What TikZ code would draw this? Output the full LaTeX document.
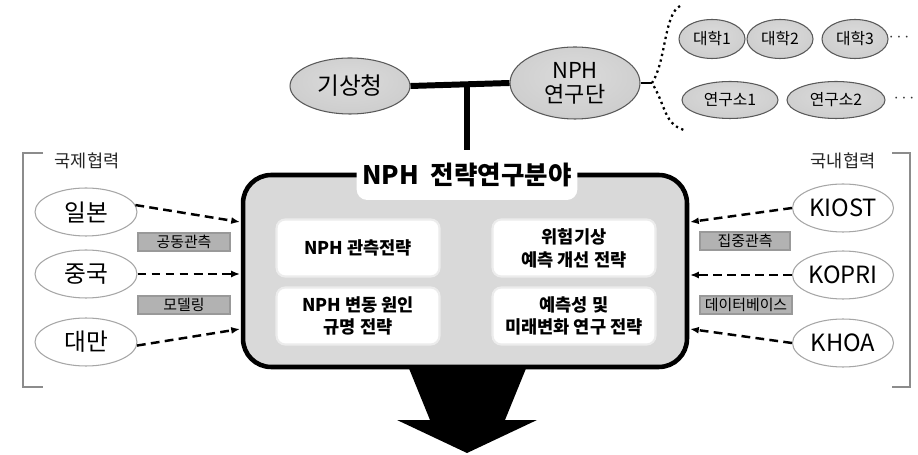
\documentclass[tikz,border=0pt]{standalone}
\usepackage{fontspec}
\setmainfont{Noto Sans CJK KR}
\usepackage{tikz}
\usetikzlibrary{arrows.meta,shapes.geometric,shadows}

% sfumature per le ellissi
\pgfdeclareradialshading{bordochiaro}{\pgfpoint{0bp}{6bp}}{color(0bp)=(white); color(27bp)=(white); color(46bp)=(gray!55); color(60bp)=(gray!60)}
\pgfdeclareradialshading{bordoscuro}{\pgfpoint{0bp}{6bp}}{color(0bp)=(gray!28); color(26bp)=(gray!38); color(48bp)=(gray!85); color(60bp)=(gray!90)}

\begin{document}
\begin{tikzpicture}[x=0.02cm, y=-0.02cm,
    gruppo/.style={ellipse, draw=gray!70!black, line width=0.6pt, shading=bordoscuro, inner sep=0pt, align=center},
    ente/.style={ellipse, draw=gray!70, line width=0.6pt, shading=bordochiaro, inner sep=0pt, minimum width=2.04cm, minimum height=0.96cm, font=\fontsize{13.5}{15}\selectfont},
    tema/.style={rounded corners=5pt, fill=white, draw=gray!15, line width=1.2pt, minimum width=3.26cm, minimum height=1.14cm, align=center, font=\bfseries\fontsize{10}{13}\selectfont},
    attivita/.style={fill=gray!60, draw=gray!80, line width=0.8pt, minimum width=1.84cm, minimum height=0.36cm, inner sep=0pt, font=\fontsize{8.5}{9}\selectfont},
    collab/.style={-{Latex[length=5pt,width=4pt]}, line width=1.4pt, dash pattern=on 5pt off 3pt},
    ]
    \useasboundingbox (0,0) rectangle (918,455);

    % Enti in alto
    \node[gruppo, minimum width=2.4cm, minimum height=1.12cm, font=\fontsize{13.5}{15}\selectfont] (kma) at (350,86) {기상청};
    \node[gruppo, minimum width=2.6cm, minimum height=1.44cm, font=\fontsize{12.5}{13.5}\selectfont] (nph) at (575,83) {NPH\\연구단};

    % Universita e istituti
    \node[gruppo, minimum width=1.32cm, minimum height=0.78cm, font=\fontsize{9}{10}\selectfont] (univ1) at (712,39) {대학1};
    \node[gruppo, minimum width=1.32cm, minimum height=0.78cm, font=\fontsize{9}{10}\selectfont] (univ2) at (780,39) {대학2};
    \node[gruppo, minimum width=1.32cm, minimum height=0.78cm, font=\fontsize{9}{10}\selectfont] (univ3) at (855,39) {대학3};
    \node[gray!40!black] (univdots) at (899,38) {$\cdots$};
    \node[gruppo, minimum width=1.92cm, minimum height=0.74cm, font=\fontsize{9}{10}\selectfont] (ist1) at (730,100) {연구소1};
    \node[gruppo, minimum width=1.96cm, minimum height=0.74cm, font=\fontsize{9}{10}\selectfont] (ist2) at (836,100) {연구소2};
    \node[gray!40!black] (istdots) at (904,99) {$\cdots$};

    % Graffa punteggiata
    \coordinate (graffa) at (652,83);
    \draw[line width=0.8pt] (nph.east) -- (graffa);
    \draw[dotted, line width=1.3pt] (680,6) .. controls (664,14) and (666,62) .. (graffa)
        .. controls (666,106) and (664,124) .. (684,130);

    % Riquadro centrale
    \node[rounded corners=16pt, fill=gray!30, draw=black, line width=2.6pt, minimum width=8.88cm, minimum height=3.84cm] (campo) at (465,271) {};
    \node[tema] (oss) at (358,248) {NPH 관측전략};
    \node[tema] (prev) at (574,248) {위험기상\\예측 개선 전략};
    \node[tema] (causa) at (358,316) {NPH 변동 원인\\규명 전략};
    \node[tema] (futuro) at (574,316) {예측성 및\\미래변화 연구 전략};
    \node[rounded corners=6pt, fill=white, minimum width=4.26cm, minimum height=1.0cm, font=\bfseries\fontsize{14.5}{16}\selectfont] (titolo) at (467,175) {NPH\ \ 전략연구분야};

    % Collegamento a T
    \coordinate (nodo) at (467,83);
    \draw[line width=3.4pt] (kma.east) -- (nph.west);
    \draw[line width=3.4pt] (nodo) -- (titolo.north);

    % Freccia grande
    \fill (408,366) -- (527,366) -- (505,420) -- (537,420) -- (467,453) -- (397,420) -- (430,420) -- cycle;

    % Cooperazione internazionale
    \draw[gray!90, line width=1.6pt] (43,153) -- (23,153) -- (23,387) -- (43,387);
    \node[text=gray!30!black, font=\fontsize{10}{12}\selectfont] (intl) at (87,161) {국제협력};
    \node[ente] (jp) at (86,212) {일본};
    \node[ente] (cn) at (86,274) {중국};
    \node[ente] (tw) at (86,342) {대만};
    \node[attivita] (joint) at (184,242) {공동관측};
    \node[attivita] (model) at (184,305) {모델링};
    \coordinate (in1) at (240,222);
    \coordinate (in2) at (240,274);
    \coordinate (in3) at (240,329);
    \draw[collab] (jp.8) -- (in1);
    \draw[collab] (cn.east) -- (in2);
    \draw[collab] (tw.-4) -- (in3);

    % Cooperazione nazionale
    \draw[gray!90, line width=1.6pt] (892,153) -- (910,153) -- (910,387) -- (892,387);
    \node[text=gray!30!black, font=\fontsize{10}{12}\selectfont] (dom) at (843,161) {국내협력};
    \node[ente, minimum width=2.02cm] (kiost) at (843,208) {KIOST};
    \node[ente, minimum width=2.02cm] (kopri) at (843,275) {KOPRI};
    \node[ente, minimum width=2.02cm] (khoa) at (843,343) {KHOA};
    \node[attivita, minimum width=1.8cm] (intens) at (745,241) {집중관측};
    \node[attivita] (db) at (746,305) {데이터베이스};
    \coordinate (out1) at (690,222);
    \coordinate (out2) at (690,275);
    \coordinate (out3) at (690,329);
    \draw[collab] (kiost.west) -- (out1);
    \draw[collab] (kopri.west) -- (out2);
    \draw[collab] (khoa.west) -- (out3);
\end{tikzpicture}
\end{document}
